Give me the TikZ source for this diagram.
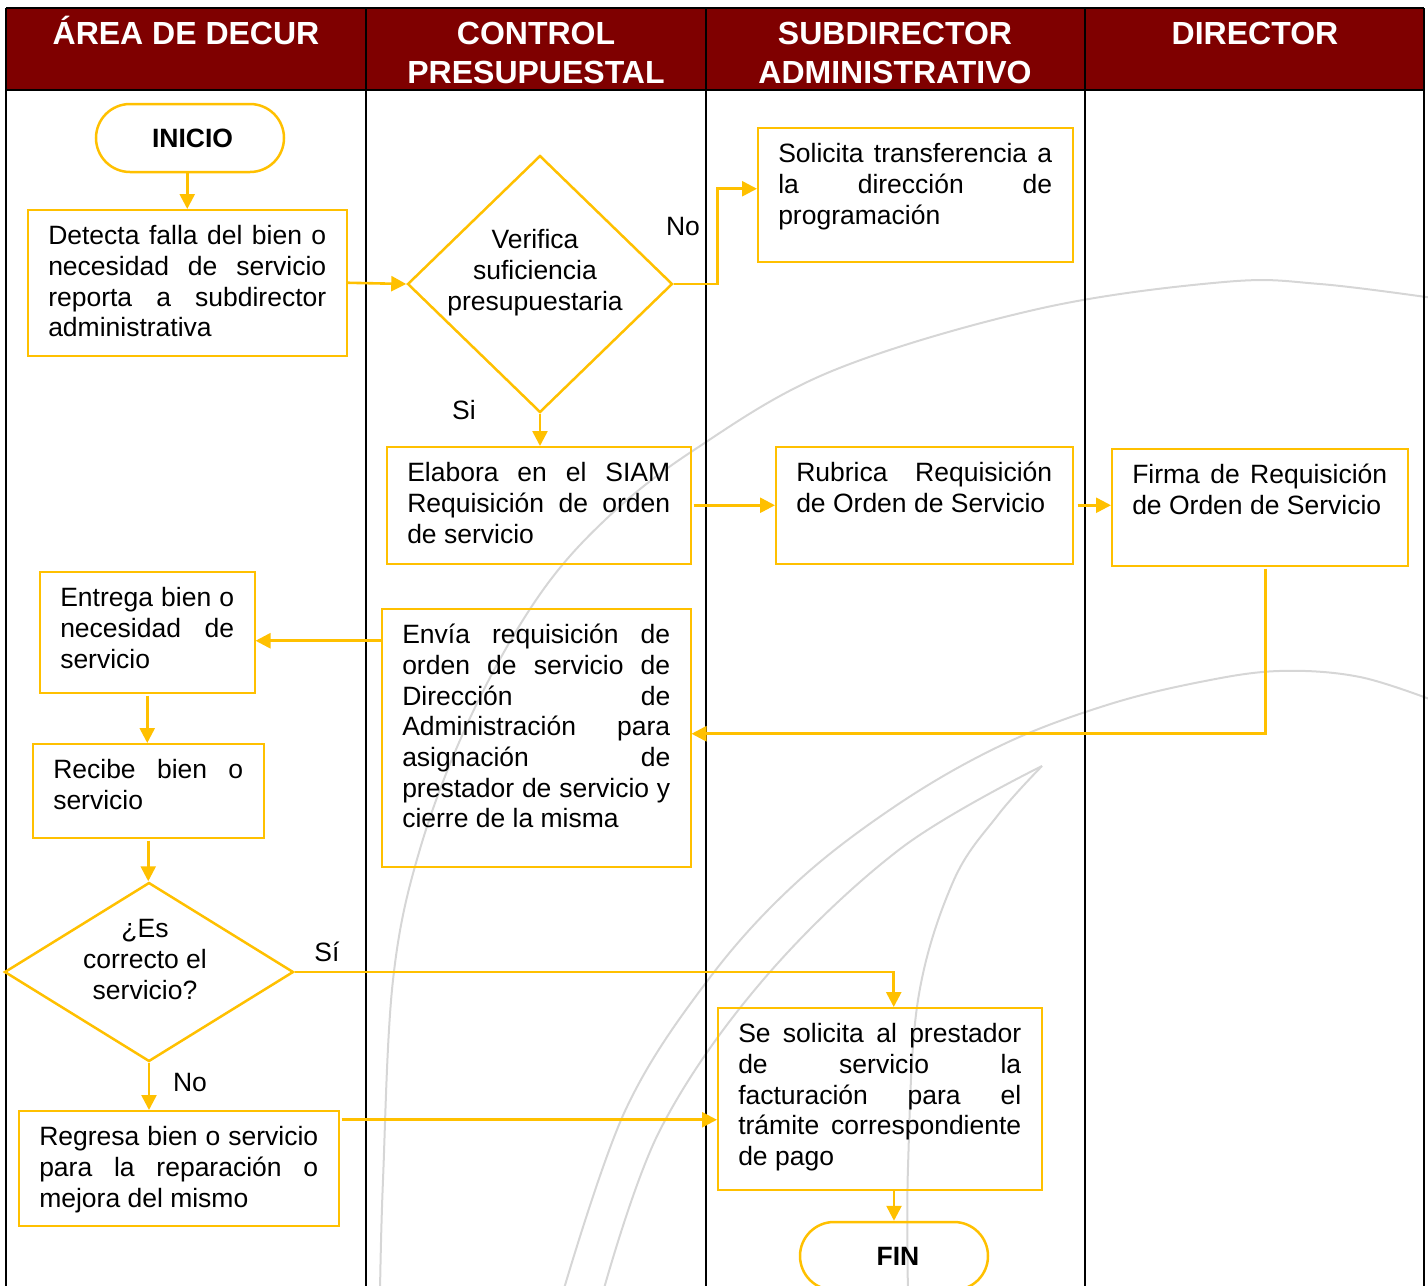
\documentclass[tikz,border=0pt]{standalone}
\usepackage{fontspec}
\setmainfont{Liberation Sans}
\usetikzlibrary{shapes.geometric,arrows.meta,calc}
\definecolor{hdr}{HTML}{7F0000}
\definecolor{yel}{HTML}{FFC000}
\definecolor{wm}{HTML}{D6D6D6}
\newcommand{\jl}[1]{\makebox[\linewidth][s]{#1}}
\newcommand{\bodyfont}{\fontsize{26.5pt}{30.7pt}\selectfont}
\newcommand{\hdrfont}{\fontsize{32pt}{39pt}\selectfont\bfseries}
\newcommand{\bx}[3]{\parbox[c][#1][t]{#2}{\rule{0pt}{35pt}#3}}
\begin{document}
\begin{tikzpicture}[x=1pt,y=-1pt,
  box/.style={draw=yel, line width=1.5pt, inner xsep=20.5pt, inner ysep=0pt, anchor=north west, font=\bodyfont},
  term/.style={draw=yel, line width=2.5pt, rounded corners=34pt, minimum width=188pt, minimum height=68pt, inner sep=0pt, font=\bodyfont\bfseries},
  dia/.style={diamond, draw=yel, line width=2.5pt, inner sep=0pt},
  dtext/.style={anchor=north, inner sep=0pt, font=\bodyfont, align=center},
  hd/.style={anchor=north, inner sep=0pt, font=\hdrfont, text=white, align=center},
  lab/.style={inner sep=0pt, font=\bodyfont},
  arr/.style={draw=yel, line width=2.6pt, -{Triangle[length=15pt,width=15pt]}},
  wmline/.style={draw=wm, line width=2pt},
  grid/.style={draw=black, line width=2.5pt}]
\useasboundingbox (0,0) rectangle (1428,1286);
% watermark
\draw[wmline] plot[smooth, tension=0.6] coordinates {(380,1292) (383,1180) (393,980) (420,849) (470,718) (536,600) (605,520) (694,450) (832,371) (1038,309) (1224,282) (1320,284) (1440,299)};
\draw[wmline] plot[smooth, tension=0.6] coordinates {(563,1292) (625,1111) (708,980) (797,882) (900,803) (1004,744) (1107,705) (1200,682) (1279,671) (1360,677) (1440,703)};
\draw[wmline] plot[smooth, tension=0.6] coordinates {(603,1292) (660,1130) (763,980) (900,849) (1042,766)};
\draw[wmline] plot[smooth, tension=0.6] coordinates {(908,1292) (908,1167) (918,1000) (953,882) (998,815) (1042,766)};
% header and lanes
\fill[hdr] (6,8) rectangle (1424,90);
\draw[grid] (6,8) -- (1424,8);
\draw[grid] (6,90) -- (1424,90);
\draw[grid] (6,8) -- (6,1300);
\draw[grid] (366,8) -- (366,1300);
\draw[grid] (706,8) -- (706,1300);
\draw[grid] (1085,8) -- (1085,1300);
\draw[grid] (1424,8) -- (1424,1300);
\node[hd] (h1) at (186,8) {\rule{0pt}{36pt}ÁREA DE DECUR};
\node[hd] (h2) at (536,8) {\rule{0pt}{36pt}CONTROL\\PRESUPUESTAL};
\node[hd] (h3) at (895,8) {\rule{0pt}{36pt}SUBDIRECTOR\\ADMINISTRATIVO};
\node[hd] (h4) at (1255,8) {\rule{0pt}{36pt}DIRECTOR};
% nodes
\node[term] (inicio) at (190,138) {\hspace*{5pt}INICIO};
\node[box] (detecta) at (27,209) {\bx{146pt}{278pt}{\jl{Detecta falla del bien o}\\\jl{necesidad de servicio}\\\jl{reporta a subdirector}\\administrativa}};
\node[dia, minimum width=265pt, minimum height=257pt] (d1) at (540,284) {};
\node[dtext] (d1t) at (535,213.5) {\rule{0pt}{35pt}Verifica\\suficiencia\\presupuestaria};
\node[box] (solicita) at (757,127) {\bx{134pt}{274pt}{\jl{Solicita transferencia a}\\\jl{la dirección de}\\programación}};
\node[box] (elabora) at (386,446) {\bx{117pt}{263pt}{\jl{Elabora en el SIAM}\\\jl{Requisición de orden}\\de servicio}};
\node[box] (rubrica) at (775,446) {\bx{117pt}{256pt}{\jl{Rubrica Requisición}\\de Orden de Servicio}};
\node[box] (firma) at (1111,448) {\bx{117pt}{255pt}{\jl{Firma de Requisición}\\de Orden de Servicio}};
\node[box] (envia) at (381,608) {\bx{258pt}{268pt}{\jl{Envía requisición de}\\\jl{orden de servicio de}\\\jl{Dirección de}\\\jl{Administración para}\\\jl{asignación de}\\\jl{prestador de servicio y}\\cierre de la misma}};
\node[box] (entrega) at (39,571) {\bx{121pt}{174pt}{\jl{Entrega bien o}\\\jl{necesidad de}\\servicio}};
\node[box] (recibe) at (32,743) {\bx{94pt}{190pt}{\jl{Recibe bien o}\\servicio}};
\node[dia, minimum width=289pt, minimum height=179pt] (d2) at (149,972) {};
\node[dtext] (d2t) at (145,902.5) {\rule{0pt}{35pt}¿Es\\correcto el\\servicio?};
\node[box] (regresa) at (18,1110) {\bx{115pt}{279pt}{\jl{Regresa bien o servicio}\\\jl{para la reparación o}\\mejora del mismo}};
\node[box] (sesol) at (717,1007) {\bx{182pt}{283pt}{\jl{Se solicita al prestador}\\\jl{de servicio la}\\\jl{facturación para el}\\\jl{trámite correspondiente}\\de pago}};
\node[term] (fin) at (894,1256) {\hspace*{8pt}FIN};
% labels
\node[lab] (lno1) at (683,227) {No};
\node[lab] (lsi1) at (464,410) {Si};
\node[lab] (lsi2) at (327,952) {Sí};
\node[lab] (lno2) at (190,1082) {No};
% connectors
\coordinate (c8) at ([yshift=-8.5pt]entrega.east);
\coordinate (c13) at ([yshift=-21pt]sesol.west);
\draw[arr] (inicio.south -| detecta.north) -- (detecta.north);
\draw[arr] (detecta.east) -- (d1.west);
\draw[arr] (d1.east) -- ++(44,0) |- ([yshift=6pt]solicita.west);
\draw[arr] (d1.south) -- (d1.south |- elabora.north);
\draw[arr] ([xshift=2pt]elabora.east) -- (rubrica.west);
\draw[arr] ([xshift=4pt]rubrica.east) -- (rubrica.east -| firma.west);
\draw[arr] ([xshift=6pt,yshift=-2pt]firma.south) |- ([yshift=4pt]envia.east);
\draw[arr] (envia.west |- c8) -- (c8);
\draw[arr] ([yshift=-2pt]entrega.south) -- (entrega.south |- recibe.north);
\draw[arr] ([yshift=-2pt]recibe.south) -- (recibe.south |- d2.north);
\draw[arr] (d2.east) -| ([xshift=14pt]sesol.north);
\draw[arr] (d2.south) -- (d2.south |- regresa.north);
\draw[arr] ([xshift=2pt]regresa.east |- c13) -- (c13);
\draw[arr] (fin.north |- sesol.south) -- (fin.north);
\end{tikzpicture}
\end{document}
